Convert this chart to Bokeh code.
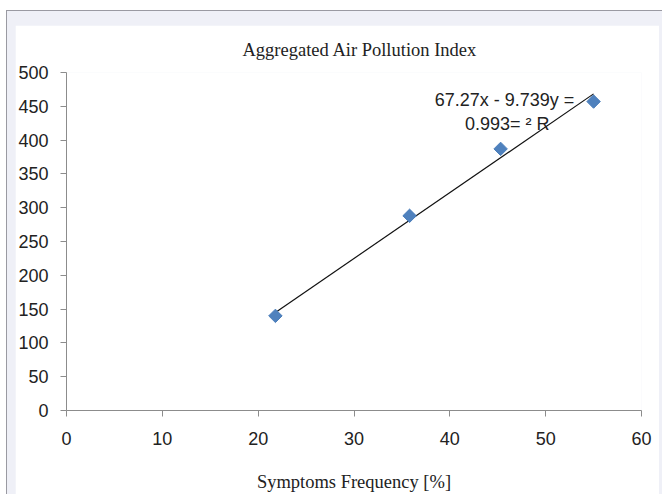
import math
from bokeh.plotting import figure
from bokeh.layouts import column
from bokeh.models import Label, FixedTicker
from bokeh.embed import file_html
from bokeh.resources import INLINE

# Data
symptoms_freq = [21.8, 35.8, 45.3, 55.0]
pollution_index = [140, 288, 387, 457]

# Trendline as labelled on the chart: y = 9.739x - 67.27, R^2 = 0.993
slope = 9.739
intercept = -67.27
eq_line1 = "67.27x - 9.739y ="
eq_line2 = "0.993= \u00b2 R"

x_ticks = [0, 10, 20, 30, 40, 50, 60]
y_ticks = [0, 50, 100, 150, 200, 250, 300, 350, 400, 450, 500]

p = figure(
    width=644, height=469,
    x_range=(0, 60), y_range=(0, 500),
    output_backend="svg", toolbar_location=None,
    min_border_left=51, min_border_right=18, min_border_top=47, min_border_bottom=84,
    background_fill_color="white", border_fill_color="white",
)
p.outline_line_color = None
p.grid.visible = False

p.title.text = "Aggregated Air Pollution Index"
p.title.align = "left"
p.title.offset = 176
p.title.vertical_align = "top"
p.title.text_font = "Liberation Serif"
p.title.text_font_size = "18.5px"
p.title.text_font_style = "normal"
p.title.text_color = "#222222"
p.title.standoff = 22

for ax in (p.xaxis[0], p.yaxis[0]):
    ax.axis_line_color = "#8c8c8c"
    ax.major_tick_line_color = "#8c8c8c"
    ax.minor_tick_line_color = None
    ax.major_tick_in = 0
    ax.major_tick_out = 6
    ax.major_label_text_font = "Liberation Sans"
    ax.major_label_text_font_size = "18px"
    ax.major_label_text_color = "#222222"

p.xaxis[0].ticker = FixedTicker(ticks=x_ticks)
p.yaxis[0].ticker = FixedTicker(ticks=y_ticks)
p.xaxis[0].major_label_standoff = 15
p.yaxis[0].major_label_standoff = 12

p.xaxis[0].axis_label = "Symptoms Frequency [%]"
p.xaxis[0].axis_label_text_font = "Liberation Serif"
p.xaxis[0].axis_label_text_font_size = "18.5px"
p.xaxis[0].axis_label_text_font_style = "normal"
p.xaxis[0].axis_label_text_color = "#222222"
p.xaxis[0].axis_label_standoff = 24

# trendline between min and max x
x0, x1 = min(symptoms_freq), max(symptoms_freq)
p.line([x0, x1], [slope * x0 + intercept, slope * x1 + intercept],
       line_color="#111111", line_width=1.2)

p.scatter(symptoms_freq, pollution_index, marker="square", angle=math.pi / 4,
          size=9.5, fill_color="#4f81bd", line_color="#4a7ebb")

p.add_layout(Label(x=45.7, y=459, text=eq_line1, text_align="center",
                   text_baseline="middle", text_font="Liberation Sans",
                   text_font_size="18px", text_color="#222222"))
p.add_layout(Label(x=46.0, y=424, text=eq_line2, text_align="center",
                   text_baseline="middle", text_font="Liberation Sans",
                   text_font_size="18px", text_color="#222222"))

p.margin = (14, 3, 0, 8)

layout = column(
    p,
    styles={
        "background-color": "#eff0f7",
        "border-left": "1px solid #9a9aa2",
        "border-top": "1px solid #9a9aa2",
    },
    margin=(10, 0, 0, 6),
)

open("out.html", "w").write(file_html(layout, INLINE))
